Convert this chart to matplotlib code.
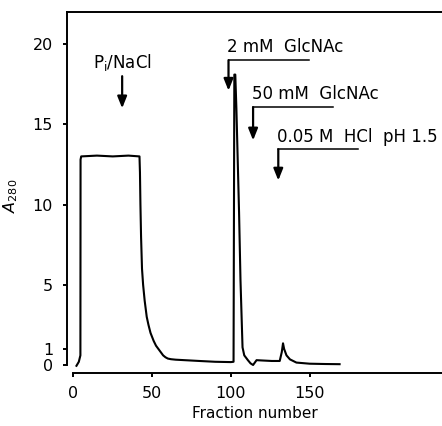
import matplotlib
matplotlib.use("Agg")
import matplotlib.pyplot as plt

# ── Elution profile ────────────────────────────────────────────────────────
fraction = [2, 3.5, 4.5, 4.6, 5, 15, 25, 35, 42, 42.3, 42.6, 43, 43.6, 44.3,
            45.3, 46.6, 47.7, 49, 51, 52.5, 54, 55.5, 57, 58.5, 60, 62, 65,
            80, 90, 100, 101.7, 102.2, 102.8, 103.5, 105.2, 106.1, 107.4,
            108.5, 110.8, 112.5, 114.1, 116.3, 120, 126, 131, 132.3, 133.1,
            133.8, 135.3, 137.5, 141.6, 150, 160, 169]
a280 = [-0.05, 0.2, 0.6, 12.8, 13.0, 13.05, 13.0, 13.05, 13.0, 12.0, 10.0,
        8.0, 6.0, 5.0, 4.0, 3.0, 2.5, 2.0, 1.5, 1.2, 1.0, 0.8, 0.6, 0.48,
        0.4, 0.36, 0.33, 0.25, 0.2, 0.18, 0.2, 18.1, 18.1, 16.0, 9.5, 5.3,
        1.1, 0.6, 0.3, 0.1, 0.0, 0.3, 0.28, 0.25, 0.25, 0.8, 1.35, 1.0, 0.6,
        0.35, 0.15, 0.08, 0.06, 0.05]

yticks = [0, 1, 5, 10, 15, 20]
xticks = [0, 50, 100, 150]

# buffer changes: label, fraction where it starts, line end, line height, arrow tip
buffers = [
    ("2 mM  GlcNAc", 98.5, 149.6, 19.0, 17.1),
    ("50 mM  GlcNAc", 114.1, 164.8, 16.07, 14.0),
    ("0.05 M  HCl  pH 1.5", 130.1, 180.8, 13.44, 11.5),
]

plt.rcParams["font.family"] = ["DejaVu Sans"]

fig = plt.figure(figsize=(4.42, 4.26), dpi=100)
ax = fig.add_axes([0.1516, 0.1244, 0.8484, 0.8474])

ax.plot(fraction, a280, color="black", lw=1.5, solid_joinstyle="round")

ax.set_xlim(-4, 234)
ax.set_ylim(-0.5, 22)
ax.spines["right"].set_visible(False)
ax.spines["left"].set_bounds(0, 22)
ax.spines["bottom"].set_bounds(0, 234)
for s in ("left", "bottom", "top"):
    ax.spines[s].set_linewidth(1.4)

ax.set_xticks(xticks)
ax.set_yticks(yticks)
ax.tick_params(direction="out", length=3, width=1.4, labelsize=11.5)
ax.tick_params(axis="y", pad=7)
ax.tick_params(axis="x", pad=6)

ax.set_xlabel("Fraction number", fontsize=11)
ax.set_ylabel(r"$A_{280}$", fontsize=11.5)
ax.yaxis.set_label_coords(-0.125, 0.49)

arrow = dict(arrowstyle="-|>,head_length=0.7,head_width=0.28", color="black",
             lw=1.6, shrinkA=0, shrinkB=0)

# Pi/NaCl step
ax.text(31.5, 18.85, r"P$_\mathrm{i}$/NaCl", fontsize=12, ha="center", va="center")
ax.annotate("", xy=(31, 16.0), xytext=(31, 18.0), arrowprops=arrow)

for label, x0, x1, yl, ytip in buffers:
    ax.plot([x1, x0], [yl, yl], color="black", lw=1.1)
    ax.annotate("", xy=(x0, ytip), xytext=(x0, yl), arrowprops=arrow)
    ax.text(x0 - 1, yl + 0.8, label, fontsize=12, ha="left", va="center")

fig.savefig("out.png", dpi=100)
